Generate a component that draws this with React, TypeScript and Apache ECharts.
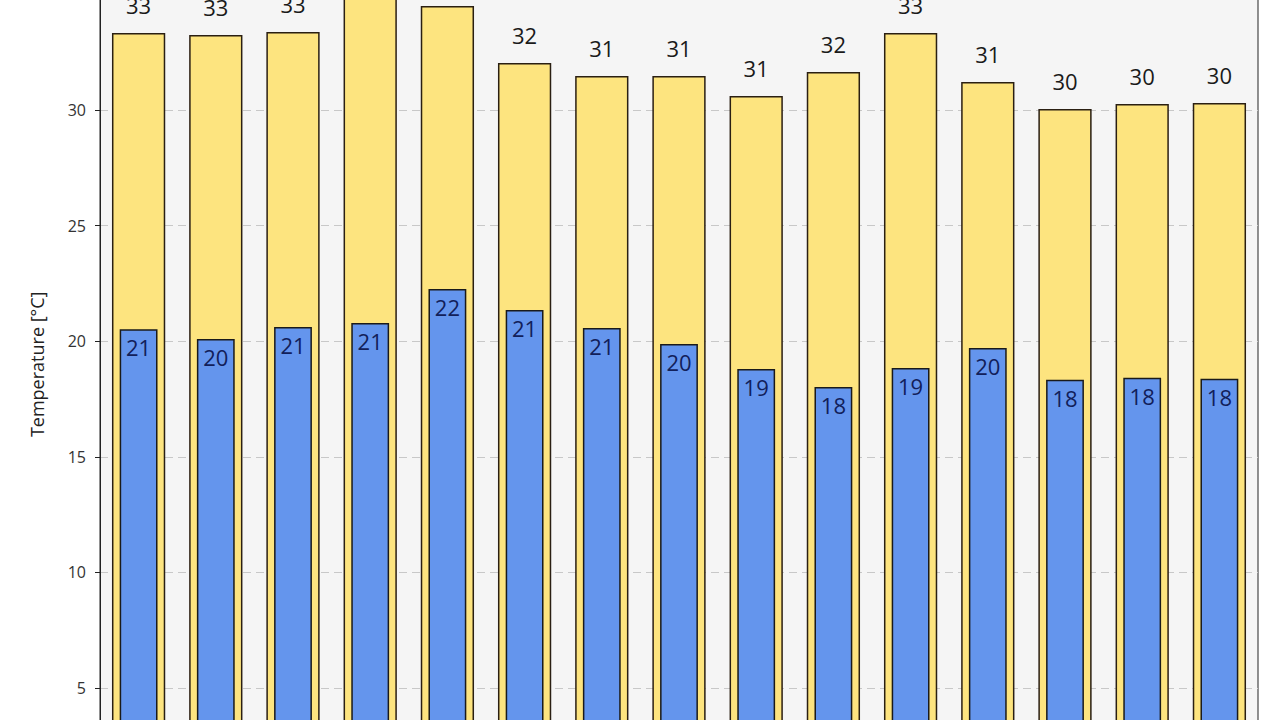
import React, { useEffect, useRef } from "react";
import * as echarts from "echarts";

const categories = ["1", "2", "3", "4", "5", "6", "7", "8", "9", "10", "11", "12", "13", "14", "15"];
const maxTemps = [33.33, 33.24, 33.37, 35.3, 34.5, 32.03, 31.47, 31.47, 30.6, 31.64, 33.33, 31.21, 30.04, 30.26, 30.3];
const minTemps = [20.52, 20.09, 20.61, 20.79, 22.26, 21.35, 20.57, 19.88, 18.8, 18.02, 18.84, 19.71, 18.33, 18.42, 18.37];
const yTicks = [0, 5, 10, 15, 20, 25, 30, 35];

export default function App() {
  const ref = useRef<HTMLDivElement>(null);
  useEffect(() => {
    if (!ref.current) return;
    const chart = echarts.init(ref.current, null, { renderer: "svg" });
    chart.setOption({
      animation: false,
      textStyle: { fontFamily: "'Open Sans', 'Noto Sans', sans-serif" },
      grid: {
        left: 100,
        right: 22,
        top: 45,
        bottom: 76.4,
        show: true,
        backgroundColor: "#f5f5f5",
        borderColor: "#222",
        borderWidth: 1,
      },
      xAxis: [
        {
          type: "category",
          data: categories,
          axisLine: { lineStyle: { color: "#222" } },
          axisTick: { show: false },
          axisLabel: { color: "#333", fontSize: 14 },
        },
        {
          type: "category",
          data: categories,
          position: "bottom",
          show: false,
        },
      ],
      yAxis: {
        type: "value",
        min: yTicks[0],
        max: 38,
        interval: 5,
        name: "Temperature [°C]",
        nameLocation: "middle",
        nameGap: 54,
        nameTextStyle: { fontSize: 18, color: "#222" },
        axisLine: { show: true, lineStyle: { color: "#222" } },
        axisTick: { show: true, length: 5, lineStyle: { color: "#222" } },
        axisLabel: {
          margin: 14,
          fontSize: 16,
          color: "#333",
          formatter: (v: number) => (yTicks.includes(v) ? String(v) : ""),
        },
        splitLine: { lineStyle: { color: "#c8c8c8", type: [8, 5] } },
      },
      series: [
        {
          type: "bar",
          name: "Max",
          xAxisIndex: 0,
          data: maxTemps,
          barWidth: "69%",
          itemStyle: { color: "#fde47f", borderColor: "#2a1f12", borderWidth: 1.5 },
          label: {
            show: true,
            position: "top",
            distance: 17,
            fontSize: 22,
            color: "#1a1a1a",
            formatter: (p: any) => String(Math.round(p.value)),
          },
          z: 2,
        },
        {
          type: "bar",
          name: "Min",
          xAxisIndex: 1,
          data: minTemps,
          barWidth: "49%",
          itemStyle: { color: "#6495ed", borderColor: "#1a1a1a", borderWidth: 1.5 },
          label: {
            show: true,
            position: "insideTop",
            distance: 7,
            fontSize: 22,
            color: "#12205a",
            formatter: (p: any) => String(Math.round(p.value)),
          },
          z: 3,
        },
      ],
    });
    return () => chart.dispose();
  }, []);
  return (
    <div
      ref={ref}
      style={{ position: "fixed", left: 0, top: -120, width: 1280, height: 1000, background: "#fff" }}
    />
  );
}
